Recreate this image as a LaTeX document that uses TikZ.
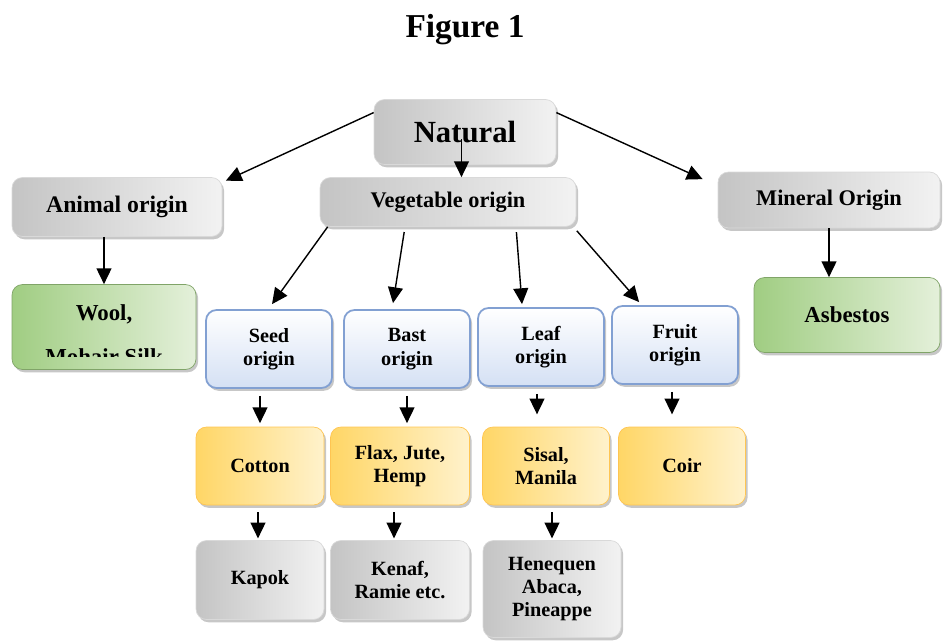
\documentclass[tikz,border=0pt]{standalone}
\usepackage{fontspec}
\setmainfont{Liberation Serif}
\usepackage{xcolor}
\usetikzlibrary{arrows.meta,shadows}

\definecolor{boxgraydark}{RGB}{196,196,196}
\definecolor{boxgraylight}{RGB}{242,242,242}
\definecolor{boxblue}{RGB}{130,160,210}
\definecolor{boxbluefill}{RGB}{212,224,244}
\definecolor{boxgold}{RGB}{255,214,102}
\definecolor{boxgoldlight}{RGB}{255,242,204}
\definecolor{boxgreen}{RGB}{160,205,130}
\definecolor{boxgreenlight}{RGB}{228,240,218}

\tikzset{
  fbox/.style={rounded corners=6pt, align=center, font=\bfseries\fontsize{11.5}{13.3}\selectfont,
    drop shadow={shadow xshift=1.2pt, shadow yshift=-1.6pt, fill=gray!55, opacity=0.8}},
  graybox/.style={fbox, left color=boxgraydark, right color=boxgraylight, draw=gray!30},
  bluebox/.style={fbox, top color=white, bottom color=boxbluefill, draw=boxblue, line width=1pt,
    minimum width=2.52cm, minimum height=1.56cm},
  goldbox/.style={fbox, left color=boxgold, right color=boxgoldlight, draw=boxgold!80!orange,
    minimum height=1.56cm},
  greenbox/.style={fbox, left color=boxgreen, right color=boxgreenlight, draw=boxgreen!80!black,
    font=\bfseries\fontsize{13}{15}\selectfont},
  link/.style={-{Triangle[length=9pt,width=8.5pt]}, line width=0.8pt}
}

\begin{document}
\begin{tikzpicture}
\useasboundingbox (0,0) rectangle (18.86,-12.82);

\node[font=\bfseries\fontsize{19}{22}\selectfont] (Title) at (9.3,-0.6) {Figure 1};

% top levels
\node[graybox, minimum width=3.64cm, minimum height=1.3cm, font=\bfseries\fontsize{17.5}{20}\selectfont] (Natural) at (9.3,-2.64) {Natural};
\node[graybox, minimum width=4.2cm, minimum height=1.18cm, font=\bfseries\fontsize{13.5}{15}\selectfont] (Animal) at (2.34,-4.14) {Animal origin};
\node[graybox, minimum width=5.12cm, minimum height=0.98cm, font=\bfseries\fontsize{12.7}{15}\selectfont] (Vegetable) at (8.96,-4.04) {Vegetable origin};
\node[graybox, minimum width=4.44cm, minimum height=1.12cm, font=\bfseries\fontsize{12.7}{15}\selectfont] (Mineral) at (16.58,-4.0) {Mineral Origin};

% second level
\node[greenbox, minimum width=3.68cm, minimum height=1.7cm] (Wool) at (2.08,-6.54) {};
\begin{scope}
  \clip (0.2,-5.7) rectangle (4,-7.12);
  \node[align=center, font=\bfseries\fontsize{13}{15}\selectfont] (WoolText) at (2.08,-6.7) {Wool,\\[10pt]Mohair Silk};
\end{scope}
\node[greenbox, minimum width=3.72cm, minimum height=1.5cm] (Asbestos) at (16.94,-6.3) {Asbestos};

\node[bluebox] (Seed) at (5.38,-6.98) {Seed\\origin};
\node[bluebox] (Bast) at (8.14,-6.98) {Bast\\origin};
\node[bluebox] (Leaf) at (10.82,-6.94) {Leaf\\origin};
\node[bluebox] (Fruit) at (13.5,-6.9) {Fruit\\origin};

% third level
\node[goldbox, minimum width=2.56cm] (Cotton) at (5.2,-9.32) {Cotton};
\node[goldbox, minimum width=2.78cm] (Flax) at (8.0,-9.32) {Flax, Jute,\\Hemp};
\node[goldbox, minimum width=2.54cm] (Sisal) at (10.92,-9.32) {Sisal,\\Manila};
\node[goldbox, minimum width=2.54cm] (Coir) at (13.64,-9.32) {Coir};

% fourth level
\node[graybox, minimum width=2.56cm, minimum height=1.58cm] (Kapok) at (5.2,-11.6) {Kapok};
\node[graybox, minimum width=2.78cm, minimum height=1.58cm] (Kenaf) at (8.0,-11.6) {Kenaf,\\Ramie etc.};
\node[graybox, minimum width=2.76cm, minimum height=1.94cm] (Henequen) at (11.04,-11.78) {Henequen\\Abaca,\\Pineappe};

% connectors
\draw[link] (Natural.168) -- ([xshift=2pt,yshift=-2pt]Animal.north east);
\draw[link] ([xshift=-2pt,yshift=-4pt]Natural.center) -- ([xshift=-2pt]Natural.center |- Vegetable.north);
\draw[link] (Natural.12) -- ([xshift=-0.3cm,yshift=-0.15cm]Mineral.north west);
\draw[link] (Animal.south -| Wool.north) -- (Wool.north);
\draw[link] (Mineral.south) -- (Mineral.south |- Asbestos.north);

\draw[link] ([xshift=0.16cm]Vegetable.south west) -- ([xshift=0.06cm,yshift=0.1cm]Seed.north);
\draw[link, shorten <=3pt] ([xshift=-0.86cm]Vegetable.south) -- ([xshift=-0.28cm,yshift=0.12cm]Bast.north);
\draw[link, shorten <=3pt] ([xshift=1.36cm]Vegetable.south) -- ([xshift=-0.38cm,yshift=0.06cm]Leaf.north);
\draw[link, shorten <=3pt] ([xshift=-0.06cm]Vegetable.south east) -- ([xshift=0.56cm,yshift=0.06cm]Fruit.north west);

\draw[link, shorten <=4pt, shorten >=2pt] (Seed.south -| Cotton.north) -- (Cotton.north);
\draw[link, shorten <=4pt, shorten >=2pt] (Bast.south) -- (Bast.south |- Flax.north);
\draw[link, shorten <=4pt, shorten >=7pt] ([xshift=-0.08cm]Leaf.south) -- ([xshift=-0.08cm]Leaf.south |- Sisal.north);
\draw[link, shorten <=4pt, shorten >=7pt] ([xshift=-0.06cm]Fruit.south) -- ([xshift=-0.06cm]Fruit.south |- Coir.north);

\draw[link, shorten <=4pt, shorten >=1pt] ([xshift=-0.04cm]Cotton.south) -- ([xshift=-0.04cm]Kapok.north);
\draw[link, shorten <=4pt, shorten >=1pt] ([xshift=-0.12cm]Flax.south) -- ([xshift=-0.12cm]Kenaf.north);
\draw[link, shorten <=4pt, shorten >=1pt] (Sisal.south -| Henequen.north) -- (Henequen.north);
\end{tikzpicture}
\end{document}
